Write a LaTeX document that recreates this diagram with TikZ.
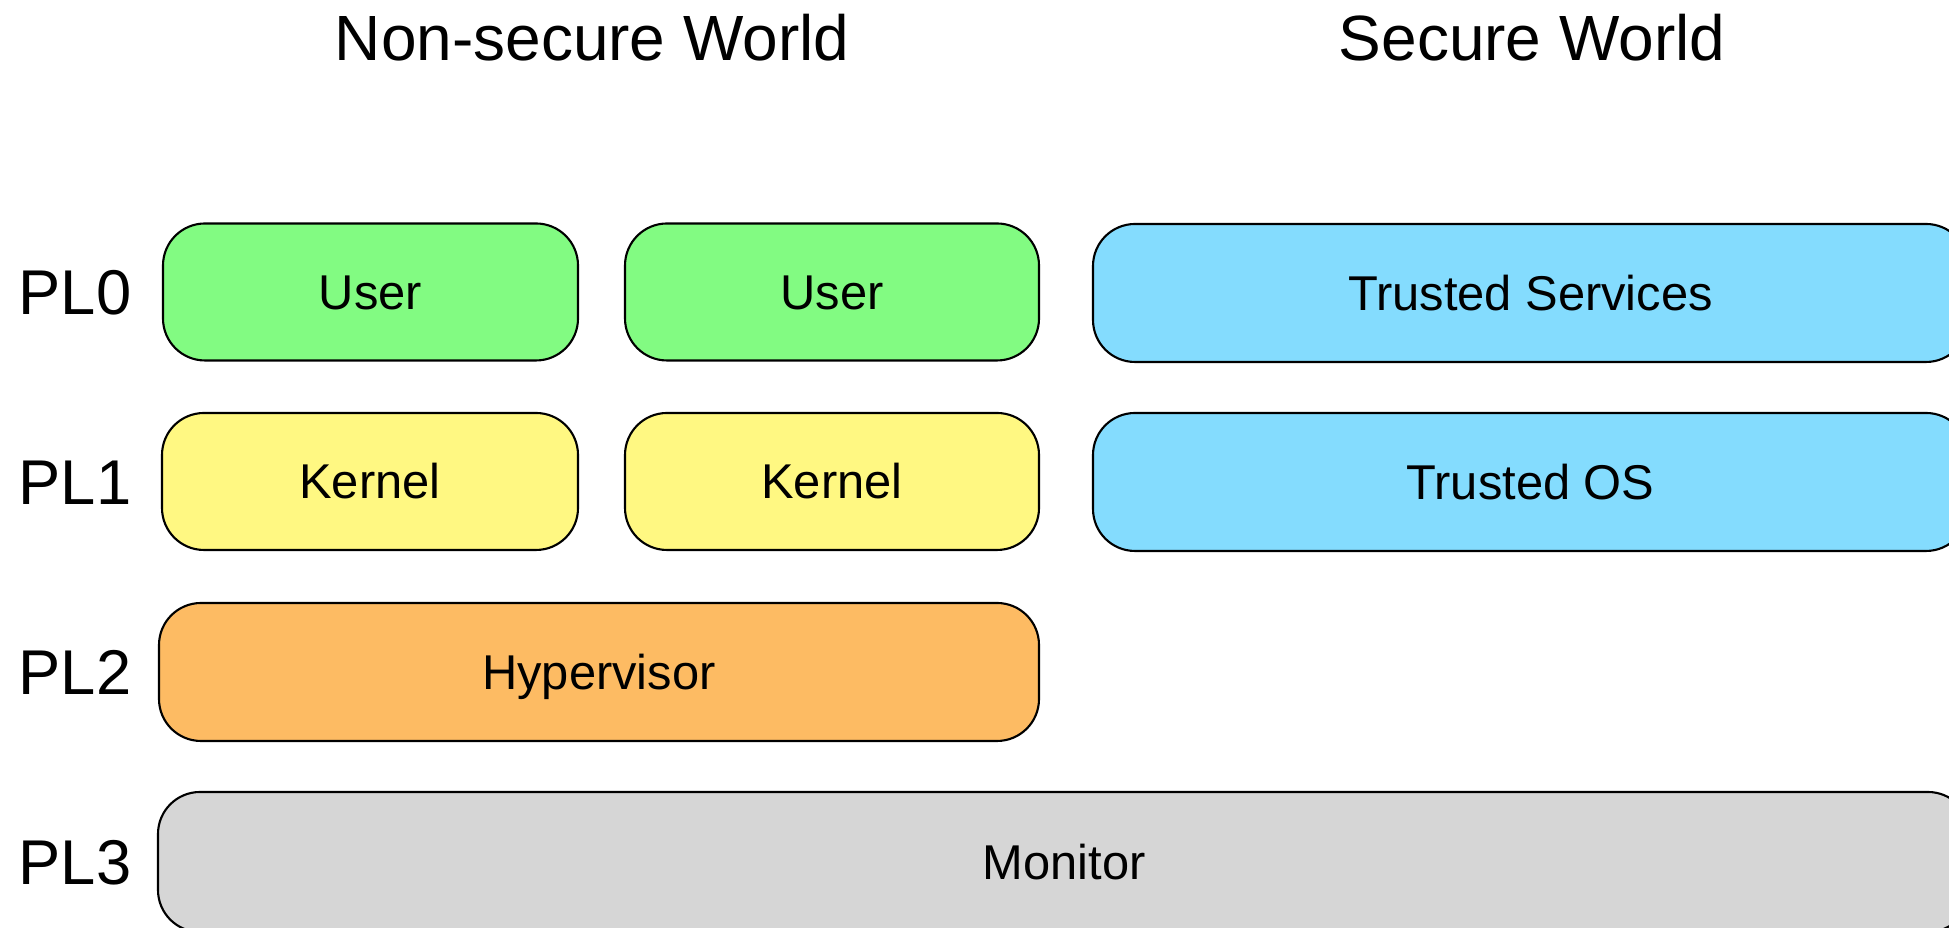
\documentclass[tikz,border=0pt]{standalone}
\usepackage{fontspec}
\setmainfont{Liberation Sans}
\usepackage{tikz}
\usetikzlibrary{positioning}
\definecolor{userGreen}{RGB}{130,251,130}
\definecolor{kernYellow}{RGB}{255,248,130}
\definecolor{hypOrange}{RGB}{253,187,99}
\definecolor{secBlue}{RGB}{132,220,254}
\definecolor{monGray}{RGB}{214,214,214}

\begin{document}
\begin{tikzpicture}[
    lvl/.style={rectangle, rounded corners=0.42cm, draw=black, line width=0.6pt,
                minimum height=1.37cm, inner sep=0pt,
                font=\fontsize{13.9}{16}\selectfont, text height=9.95pt, text depth=0pt},
    pl/.style={font=\fontsize{18}{21}\selectfont, text height=12.9pt, text depth=0pt, inner sep=0pt},
    world/.style={font=\fontsize{18.2}{21}\selectfont, anchor=base, inner sep=0pt}]

    \useasboundingbox (0,0) rectangle (19.49,9.28);
    \clip (0,0) rectangle (19.49,9.28);

    % World headings
    \node[world] (nsw) at (5.92,8.67) {Non-secure World};
    \node[world] (sw) at (15.32,8.67) {Secure World};

    % Privilege levels
    \node[pl] (pl0) at (0.75,6.36) {PL0};
    \node[pl] (pl1) at (0.75,4.465) {PL1};
    \node[pl] (pl2) at (0.75,2.56) {PL2};
    \node[pl] (pl3) at (0.75,0.66) {PL3};

    % Non-secure side
    \node[lvl, fill=userGreen, minimum width=4.15cm] (user1) at (3.705,6.36) {User};
    \node[lvl, fill=userGreen, minimum width=4.14cm] (user2) at (8.32,6.36) {User};
    \node[lvl, fill=kernYellow, minimum width=4.16cm] (kern1) at (3.70,4.465) {Kernel};
    \node[lvl, fill=kernYellow, minimum width=4.14cm] (kern2) at (8.32,4.465) {Kernel};
    \node[lvl, fill=hypOrange, minimum width=8.80cm, minimum height=1.38cm] (hyp) at (5.99,2.56) {Hypervisor};

    % Secure side
    \node[lvl, fill=secBlue, minimum width=8.75cm, minimum height=1.38cm] (tsvc) at (15.305,6.35) {Trusted Services};
    \node[lvl, fill=secBlue, minimum width=8.75cm, minimum height=1.38cm] (tos) at (15.305,4.46) {Trusted OS};

    % Monitor spans both worlds
    \node[lvl, fill=monGray, minimum width=18.12cm, minimum height=1.40cm] (mon) at (10.64,0.66) {Monitor};

\end{tikzpicture}
\end{document}
